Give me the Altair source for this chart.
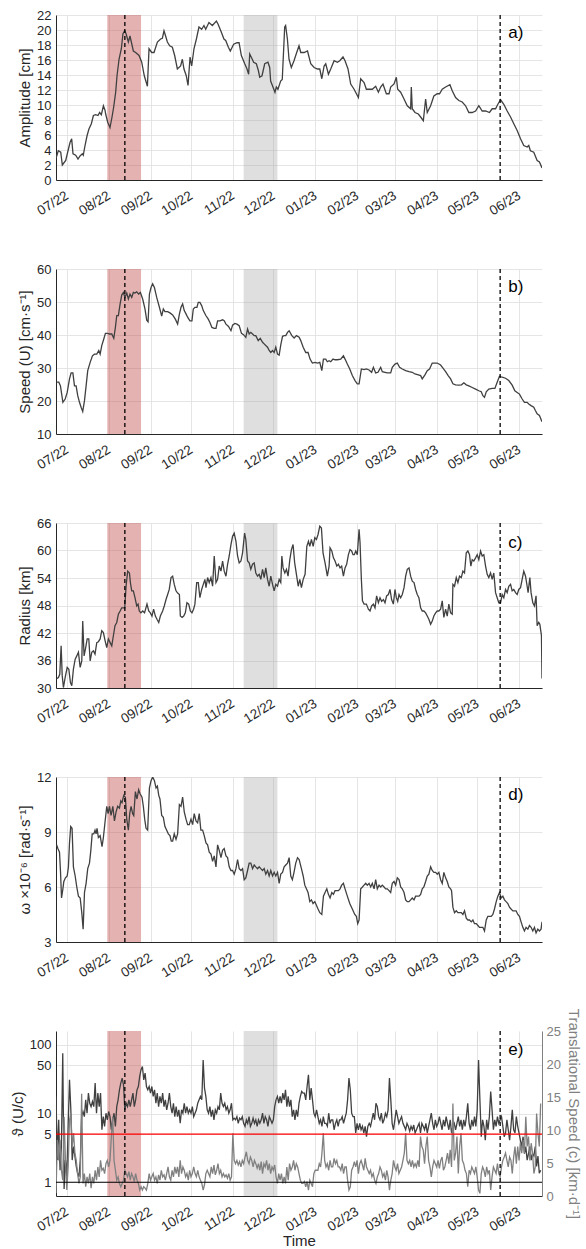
import altair as alt
import pandas as pd

# ---------------------------------------------------------------------------
# Time frame of the record (days are counted from BASE_DAY)
# ---------------------------------------------------------------------------
BASE_DAY = pd.Timestamp("2022-06-23")
X_START = (2022, 6, 23)
X_END = (2023, 6, 18)
MONTH_TICKS = [(2022, m, 1) for m in range(7, 13)] + [(2023, m, 1) for m in range(1, 7)]

# Highlighted periods and events
RED_PERIOD = ("2022-07-31", "2022-08-25")
GRAY_PERIOD = ("2022-11-09", "2022-12-04")
EVENT_DATES = ["2022-08-13", "2023-05-18"]
LETTER_DATE = "2023-05-24"

# ---------------------------------------------------------------------------
# Series: (day since BASE_DAY, value)
# ---------------------------------------------------------------------------
AMPLITUDE = [
    (0, 2.9), (1.7, 3.9), (3.5, 3.7), (4.7, 2.0), (7.2, 2.6), (8.9, 3.9), (10.4, 5.0), (11.6, 5.5),
    (12.6, 3.5), (14.6, 3.3), (16.3, 2.8), (17.8, 3.2), (19.5, 3.5), (20.2, 3.3), (21.5, 4.6),
    (23.0, 5.9), (24.4, 6.8), (26.2, 7.5), (27.7, 8.6), (29.4, 8.7), (31.1, 8.6), (32.3, 9.0),
    (33.6, 8.7), (35.1, 9.9), (36.3, 9.3), (36.8, 8.8), (38.3, 7.7), (40.0, 7.0), (41.5, 8.4),
    (42.7, 9.7), (44.2, 11.7), (45.2, 13.9), (46.7, 16.1), (48.4, 17.5), (49.6, 19.5), (50.9, 19.9),
    (51.9, 19.5), (53.6, 18.4), (54.8, 19.2), (55.8, 18.4), (57.3, 17.2), (59.0, 17.0), (61.5, 16.6),
    (63.5, 15.7), (65.4, 13.9), (67.7, 12.5), (68.9, 17.5), (70.9, 17.0), (72.6, 17.0), (75.1, 18.4),
    (77.5, 18.8), (78.8, 18.9), (80.0, 19.9), (81.2, 19.2), (82.5, 18.4), (84.2, 17.9), (86.2, 17.7),
    (87.9, 16.6), (89.9, 14.8), (92.3, 15.2), (93.6, 16.1), (94.8, 14.8), (96.5, 13.9), (97.8, 12.6),
    (99.3, 16.4), (100.5, 15.2), (102.2, 17.5), (104.0, 18.8), (105.9, 20.4), (107.9, 20.1),
    (109.6, 20.6), (110.9, 20.1), (113.3, 21.0), (115.8, 20.6), (118.8, 21.2), (120.0, 20.8),
    (122.5, 19.7), (124.4, 18.8), (125.7, 18.6), (127.7, 17.7), (129.1, 17.2), (131.6, 18.1),
    (134.1, 18.3), (135.6, 18.3), (137.3, 16.6), (139.8, 15.5), (141.5, 14.8), (142.7, 14.1),
    (143.5, 16.8), (145.4, 16.1), (146.4, 15.7), (148.4, 15.5), (149.9, 14.6), (150.9, 13.7),
    (152.6, 13.9), (154.6, 15.5), (157.0, 15.7), (158.3, 15.0), (159.0, 13.2), (160.7, 12.4),
    (162.2, 11.7), (163.2, 12.4), (164.4, 12.1), (166.4, 13.2), (167.6, 13.4), (169.4, 20.4),
    (170.1, 20.6), (171.4, 18.8), (172.6, 16.1), (174.3, 15.0), (176.3, 15.9), (178.3, 17.0),
    (180.0, 17.9), (181.3, 17.0), (183.8, 17.0), (186.3, 17.2), (188.7, 15.5), (191.2, 15.0),
    (193.7, 14.8), (195.4, 14.8), (196.9, 13.5), (198.6, 15.2), (199.8, 15.5), (201.8, 14.1),
    (203.5, 14.8), (206.0, 15.9), (208.4, 15.7), (210.2, 15.9), (212.6, 16.4), (214.1, 15.9),
    (216.3, 14.8), (218.3, 12.8), (220.8, 12.1), (224.0, 11.0), (225.7, 13.5), (228.2, 13.0),
    (229.9, 12.1), (231.9, 12.1), (234.3, 12.1), (236.8, 12.5), (238.8, 11.7), (240.5, 12.4),
    (242.2, 12.8), (244.7, 11.5), (246.7, 11.5), (247.9, 12.4), (250.4, 12.8), (252.1, 13.7),
    (253.1, 12.1), (255.3, 11.7), (257.8, 10.8), (260.2, 9.9), (262.7, 9.5), (263.2, 12.4),
    (263.9, 9.5), (265.9, 9.0), (268.4, 8.8), (270.1, 8.4), (272.1, 7.9), (273.8, 10.8), (275.0, 9.0),
    (277.5, 9.9), (279.9, 11.2), (282.4, 11.5), (284.1, 11.5), (286.1, 12.1), (288.6, 12.4),
    (291.8, 12.7), (293.5, 11.9), (296.0, 11.0), (298.4, 10.6), (300.9, 10.4), (303.4, 9.9),
    (305.8, 9.0), (308.3, 9.0), (310.8, 9.2), (313.2, 9.9), (315.7, 9.2), (318.2, 9.2), (321.1, 9.0),
    (323.1, 9.5), (325.6, 9.5), (327.3, 10.1), (329.3, 10.7), (331.7, 10.1), (334.2, 9.2),
    (336.7, 8.4), (339.1, 7.5), (341.6, 6.6), (344.1, 5.5), (346.5, 4.6), (349.0, 4.4), (350.2, 4.6),
    (351.4, 3.9), (353.9, 3.7), (356.4, 2.6), (358.1, 2.4), (360.0, 1.6),
]

SPEED = [
    (0.4, 25.7), (2.1, 25.7), (3.3, 24.6), (5.1, 19.6), (6.8, 20.6), (8.3, 22.6), (10.0, 26.7),
    (11.2, 28.5), (12.5, 28.5), (13.7, 24.6), (14.9, 24.6), (16.1, 21.6), (17.4, 19.6), (18.6, 18.1),
    (19.8, 16.8), (21.1, 20.1), (22.3, 24.6), (23.5, 29.2), (25.3, 31.7), (27.0, 33.7), (28.5, 34.2),
    (30.2, 34.2), (31.7, 35.3), (32.7, 34.2), (33.9, 36.8), (35.4, 38.8), (36.6, 40.5), (38.3, 40.5),
    (39.6, 40.3), (41.3, 40.3), (42.8, 39.0), (44.0, 42.3), (45.0, 45.9), (46.2, 45.9), (47.5, 49.4),
    (48.7, 52.1), (49.9, 52.9), (51.1, 51.4), (52.4, 52.7), (53.6, 50.9), (54.8, 52.4), (56.1, 51.4),
    (57.3, 52.9), (58.5, 52.7), (59.8, 53.1), (61.2, 52.4), (62.5, 52.9), (64.2, 50.9), (65.9, 47.9),
    (67.2, 44.5), (68.2, 44.0), (69.2, 52.4), (70.4, 54.4), (71.6, 55.5), (72.9, 54.4), (74.6, 51.4),
    (76.6, 48.4), (78.3, 45.7), (79.5, 47.9), (80.7, 47.1), (82.7, 47.1), (84.4, 46.7), (86.4, 46.1),
    (88.4, 44.8), (90.1, 43.3), (91.4, 46.3), (92.6, 48.4), (93.8, 49.4), (95.0, 47.4), (96.3, 46.4),
    (97.5, 45.4), (99.2, 44.3), (100.7, 44.3), (101.7, 47.9), (102.9, 48.4), (104.4, 48.4),
    (105.4, 49.9), (106.6, 49.9), (107.9, 48.9), (109.1, 47.4), (111.0, 45.9), (112.8, 44.8),
    (114.0, 43.8), (115.5, 42.3), (117.2, 42.0), (118.5, 42.0), (119.7, 44.3), (121.4, 44.3),
    (123.4, 44.6), (124.6, 44.3), (125.9, 43.3), (127.8, 42.6), (129.6, 41.3), (130.8, 43.0),
    (132.5, 43.5), (134.0, 43.3), (135.7, 42.8), (137.4, 40.5), (138.9, 40.1), (140.6, 39.3),
    (141.9, 41.8), (143.1, 40.3), (144.3, 40.8), (145.6, 40.3), (146.8, 39.8), (148.0, 39.8),
    (149.8, 38.3), (151.3, 39.0), (153.0, 37.8), (154.2, 37.3), (155.4, 36.8), (156.7, 36.3),
    (157.9, 35.3), (159.1, 34.7), (160.4, 35.3), (161.6, 34.7), (162.8, 36.3), (164.1, 34.2),
    (165.3, 33.9), (166.5, 37.0), (167.8, 39.6), (169.0, 39.8), (170.2, 39.8), (171.5, 40.8),
    (172.7, 41.3), (174.7, 39.8), (176.4, 39.1), (178.1, 39.8), (180.1, 39.3), (181.3, 38.3),
    (183.1, 36.3), (185.0, 34.7), (186.7, 34.7), (188.2, 32.7), (189.9, 31.5), (191.9, 31.7),
    (193.7, 31.5), (195.4, 31.7), (196.9, 29.2), (198.1, 32.7), (199.8, 32.7), (201.0, 31.9),
    (202.3, 32.2), (203.5, 31.9), (205.2, 32.7), (206.7, 32.5), (208.4, 32.5), (210.9, 32.7),
    (212.9, 33.7), (214.1, 32.7), (215.8, 31.2), (217.6, 29.7), (219.5, 27.7), (221.5, 26.2),
    (223.2, 25.2), (224.5, 25.2), (226.2, 29.7), (228.2, 29.5), (229.9, 29.7), (231.9, 29.4),
    (233.8, 28.7), (235.1, 30.2), (236.8, 28.5), (238.5, 28.7), (240.5, 30.2), (241.7, 28.9),
    (243.7, 28.7), (245.4, 28.5), (247.9, 28.5), (249.1, 30.2), (251.1, 31.2), (252.8, 31.5),
    (254.5, 30.2), (256.5, 29.7), (259.0, 29.2), (261.5, 28.9), (263.9, 28.7), (265.9, 28.2),
    (268.4, 27.9), (270.1, 27.7), (271.3, 26.7), (273.3, 27.9), (275.0, 29.2), (276.7, 29.7),
    (278.7, 31.5), (280.7, 31.5), (282.4, 31.5), (284.9, 30.9), (286.8, 29.9), (288.6, 28.9),
    (290.5, 27.7), (292.3, 26.7), (294.0, 25.2), (296.0, 24.9), (298.4, 24.8), (300.4, 24.9),
    (302.1, 25.5), (303.9, 24.9), (305.8, 24.6), (308.3, 24.1), (310.8, 23.6), (313.2, 23.1),
    (315.0, 22.8), (316.2, 21.6), (317.4, 21.1), (318.7, 22.8), (320.6, 23.6), (323.1, 23.8),
    (325.1, 23.8), (326.8, 25.7), (328.5, 27.5), (330.5, 27.2), (333.0, 26.9), (335.4, 26.2),
    (337.9, 24.8), (339.9, 23.1), (341.6, 22.6), (343.3, 22.1), (345.3, 20.6), (347.0, 19.6),
    (349.0, 19.6), (350.2, 19.1), (351.9, 18.6), (353.9, 18.1), (355.1, 17.1), (356.4, 16.1),
    (358.1, 15.6), (360.0, 13.7),
]

RADIUS = [
    (0.4, 32.0), (1.8, 32.3), (2.8, 33.0), (3.8, 39.2), (4.6, 32.7), (5.5, 30.1), (6.8, 32.3),
    (8.3, 34.5), (9.5, 34.1), (10.7, 31.2), (11.7, 30.5), (12.9, 34.1), (14.2, 36.3), (15.4, 37.0),
    (16.6, 37.8), (17.9, 34.5), (19.1, 35.9), (19.8, 44.6), (20.8, 37.0), (21.8, 38.5), (23.1, 40.7),
    (24.3, 40.7), (25.3, 35.9), (26.5, 37.8), (27.7, 38.1), (28.9, 37.4), (30.2, 39.9), (31.4, 40.1),
    (32.7, 40.7), (33.9, 42.5), (35.1, 42.1), (36.4, 40.3), (37.6, 38.8), (38.8, 40.7), (40.1, 39.9),
    (41.3, 39.2), (42.5, 41.4), (43.7, 43.6), (45.0, 44.3), (46.2, 46.1), (47.5, 46.8), (48.7, 47.5),
    (49.9, 47.5), (50.9, 47.5), (51.9, 52.2), (53.1, 55.5), (54.4, 55.1), (55.1, 53.0), (56.1, 51.2),
    (57.3, 51.2), (58.5, 49.7), (59.8, 47.9), (60.8, 48.3), (61.7, 46.8), (62.9, 46.4), (64.2, 46.8),
    (65.6, 46.4), (67.4, 48.3), (68.7, 46.8), (69.9, 46.4), (71.1, 45.7), (72.3, 47.2), (73.6, 45.7),
    (74.8, 45.0), (76.1, 44.3), (77.3, 45.7), (79.0, 46.8), (80.2, 47.9), (81.5, 49.3), (82.7, 50.4),
    (83.9, 51.5), (85.2, 54.1), (86.4, 54.4), (87.6, 52.6), (88.9, 51.2), (90.1, 50.7), (91.4, 50.4),
    (92.1, 45.7), (93.4, 45.4), (94.6, 45.7), (95.8, 46.4), (97.0, 48.6), (98.3, 48.3), (99.5, 46.8),
    (100.7, 46.4), (101.9, 47.2), (102.9, 48.3), (104.2, 53.0), (105.4, 53.0), (106.6, 49.7),
    (107.9, 51.5), (109.1, 52.6), (110.3, 53.7), (111.1, 51.9), (112.3, 54.1), (113.5, 53.0),
    (114.8, 54.1), (116.0, 52.2), (117.2, 58.8), (118.5, 53.0), (119.7, 53.7), (120.9, 56.6),
    (122.2, 55.5), (123.4, 57.7), (124.6, 55.5), (125.9, 54.4), (127.1, 57.0), (128.3, 58.8),
    (129.6, 61.3), (130.8, 63.1), (132.0, 63.8), (133.3, 62.0), (134.5, 58.8), (135.7, 57.3),
    (137.0, 57.7), (138.2, 59.5), (139.7, 63.8), (140.6, 62.4), (141.9, 57.7), (143.1, 57.3),
    (144.3, 55.9), (145.6, 57.0), (146.8, 57.3), (148.0, 55.1), (149.3, 54.4), (150.5, 54.8),
    (151.7, 53.7), (153.0, 55.9), (154.2, 54.1), (155.4, 56.2), (156.7, 53.7), (157.9, 52.2),
    (159.1, 54.4), (160.4, 52.6), (161.6, 51.2), (162.8, 52.6), (164.1, 52.2), (165.3, 53.7),
    (166.5, 53.0), (167.3, 58.8), (168.2, 56.2), (169.5, 55.1), (170.7, 55.9), (171.9, 54.4),
    (173.2, 58.0), (174.4, 60.2), (175.6, 61.3), (176.8, 57.3), (178.3, 54.4), (179.4, 52.2),
    (180.6, 53.7), (181.8, 51.9), (183.1, 53.7), (184.5, 54.8), (185.8, 60.9), (187.0, 62.0),
    (188.0, 60.9), (189.2, 62.4), (190.5, 60.9), (191.7, 62.8), (192.9, 62.4), (194.1, 63.5),
    (195.4, 65.3), (196.6, 64.9), (197.8, 59.5), (199.3, 57.3), (201.0, 54.4), (202.3, 56.6),
    (203.0, 60.6), (204.3, 59.9), (205.5, 58.4), (206.7, 57.7), (208.0, 56.6), (209.2, 57.0),
    (210.4, 56.2), (211.6, 56.6), (212.9, 54.4), (214.1, 56.2), (215.3, 57.0), (216.6, 59.1),
    (217.8, 60.2), (219.0, 59.9), (220.0, 59.1), (221.0, 59.1), (222.0, 59.9), (223.2, 59.1),
    (224.5, 64.6), (225.2, 61.8), (226.2, 53.7), (227.0, 49.0), (228.2, 48.3), (229.9, 48.3),
    (231.4, 47.2), (232.6, 46.8), (233.8, 47.9), (235.1, 48.3), (236.3, 47.5), (237.5, 50.1),
    (238.8, 48.6), (240.0, 49.7), (241.2, 48.9), (242.5, 49.3), (243.7, 48.6), (244.9, 50.1),
    (246.2, 50.4), (247.4, 51.5), (248.6, 49.3), (249.9, 48.3), (251.1, 51.5), (252.1, 49.7),
    (253.1, 48.9), (254.1, 50.4), (255.3, 49.7), (256.5, 50.4), (257.8, 51.9), (259.0, 54.4),
    (260.2, 55.9), (261.5, 56.2), (262.7, 54.4), (263.9, 53.3), (265.2, 53.0), (266.4, 51.5),
    (267.6, 50.4), (268.8, 49.7), (270.1, 47.5), (271.3, 46.8), (272.5, 46.8), (273.8, 46.4),
    (275.0, 45.7), (276.2, 45.0), (277.5, 43.9), (278.7, 44.6), (279.9, 45.7), (281.2, 46.4),
    (282.4, 46.8), (283.6, 46.8), (284.9, 47.2), (286.1, 49.0), (287.3, 45.4), (288.6, 47.2),
    (289.8, 45.7), (291.0, 48.3), (292.3, 46.4), (293.5, 46.1), (294.0, 52.6), (295.2, 52.2),
    (296.5, 54.1), (297.7, 53.0), (298.9, 54.4), (300.2, 54.1), (301.4, 55.5), (302.6, 55.1),
    (303.9, 59.5), (305.1, 59.9), (306.3, 59.1), (307.3, 56.6), (308.3, 58.0), (309.5, 57.7),
    (310.8, 58.4), (312.0, 59.1), (313.2, 58.0), (314.5, 59.9), (315.7, 58.8), (316.9, 59.1),
    (318.2, 56.6), (319.4, 54.8), (320.6, 54.1), (321.9, 55.1), (323.1, 53.7), (324.3, 55.1),
    (325.6, 50.8), (326.8, 49.7), (328.0, 48.6), (329.3, 48.6), (330.5, 50.4), (331.7, 49.7),
    (333.0, 51.5), (334.2, 50.8), (335.4, 52.2), (336.7, 52.6), (337.9, 51.2), (339.1, 51.5),
    (340.4, 50.8), (341.6, 50.4), (342.8, 51.5), (344.1, 51.9), (345.3, 53.7), (346.5, 55.5),
    (347.8, 54.4), (349.0, 52.2), (349.7, 50.8), (351.0, 54.1), (351.9, 50.8), (353.2, 48.6),
    (354.4, 47.9), (355.6, 50.1), (356.4, 43.6), (357.6, 44.3), (358.4, 43.9), (359.6, 41.4),
    (360.0, 32.1),
]

ROTATION = [
    (0.4, 8.3), (1.4, 8.1), (2.6, 7.9), (3.3, 6.9), (4.1, 5.4), (5.1, 5.9), (5.8, 6.3), (7.0, 6.5),
    (8.3, 6.6), (9.2, 7.1), (10.0, 8.4), (10.9, 9.3), (11.9, 9.2), (12.9, 7.1), (14.2, 6.6),
    (15.4, 6.0), (16.6, 5.5), (17.9, 5.4), (19.1, 4.6), (20.1, 3.7), (21.1, 5.7), (22.3, 6.2),
    (23.5, 7.0), (24.8, 7.3), (25.8, 8.0), (26.8, 8.9), (28.0, 8.9), (28.9, 9.1), (29.7, 8.9),
    (30.4, 9.2), (31.4, 8.7), (32.7, 8.8), (34.1, 8.2), (35.1, 8.7), (36.4, 9.6), (37.6, 10.4),
    (38.6, 10.0), (39.6, 10.4), (40.8, 9.9), (42.1, 10.4), (43.3, 9.6), (44.5, 10.1), (45.7, 10.4),
    (47.0, 10.3), (48.0, 10.7), (48.9, 10.6), (50.2, 11.0), (51.4, 10.9), (52.4, 9.7), (53.6, 9.1),
    (54.6, 10.0), (55.6, 10.4), (56.8, 10.0), (57.6, 9.9), (58.8, 11.2), (60.0, 10.8), (61.2, 11.3),
    (62.2, 11.1), (63.7, 10.9), (64.7, 10.4), (65.7, 9.7), (66.7, 9.2), (67.9, 9.1), (69.2, 11.4),
    (70.4, 11.8), (71.6, 12.0), (72.9, 11.8), (74.1, 11.4), (75.1, 11.5), (76.1, 11.0), (77.0, 10.8),
    (78.3, 9.9), (79.5, 9.8), (80.7, 9.3), (82.0, 9.1), (83.2, 8.9), (84.4, 8.8), (85.4, 8.5),
    (86.4, 8.5), (87.6, 8.9), (88.9, 8.6), (90.1, 8.9), (91.4, 10.5), (92.6, 10.4), (93.8, 10.9),
    (95.0, 10.1), (96.3, 9.7), (97.5, 9.4), (98.7, 9.4), (100.0, 9.7), (101.2, 9.4), (102.4, 10.0),
    (103.7, 9.6), (104.9, 9.5), (106.1, 10.0), (107.3, 9.1), (108.6, 9.1), (109.8, 8.8), (111.1, 8.4),
    (112.3, 8.3), (113.5, 7.9), (114.8, 7.8), (116.0, 7.4), (117.2, 7.7), (118.5, 7.1), (119.7, 8.3),
    (120.9, 8.0), (122.2, 7.6), (123.4, 8.0), (124.6, 8.1), (125.9, 7.7), (127.1, 7.6), (128.3, 7.1),
    (129.6, 6.9), (130.8, 6.9), (132.0, 6.7), (133.3, 7.0), (134.5, 7.5), (135.7, 7.0), (137.0, 6.9),
    (138.2, 7.0), (139.4, 6.4), (140.6, 6.5), (141.9, 6.9), (143.1, 7.3), (144.3, 7.3), (145.6, 7.0),
    (146.8, 7.2), (148.0, 7.1), (149.3, 7.0), (150.5, 7.1), (151.7, 7.0), (153.0, 6.9), (154.2, 7.0),
    (155.4, 6.7), (156.7, 6.9), (157.9, 6.6), (159.1, 6.9), (160.4, 6.6), (161.6, 6.8), (162.8, 6.6),
    (164.1, 6.8), (165.3, 6.2), (166.5, 6.7), (167.8, 6.8), (169.0, 7.1), (170.2, 7.2), (171.5, 7.3),
    (172.7, 7.6), (173.9, 6.6), (175.1, 6.4), (176.3, 6.8), (177.6, 7.3), (178.9, 7.6), (180.1, 7.5),
    (181.8, 7.0), (183.1, 6.6), (184.3, 6.1), (185.5, 5.9), (186.7, 5.7), (188.0, 5.2), (189.2, 5.3),
    (190.4, 5.1), (191.7, 5.2), (192.9, 5.0), (194.1, 4.8), (195.4, 4.6), (196.9, 4.5), (198.1, 5.5),
    (199.3, 5.7), (200.6, 5.9), (201.8, 5.6), (203.0, 5.4), (204.3, 5.7), (205.5, 5.6), (206.7, 5.8),
    (207.9, 5.8), (209.2, 5.8), (210.4, 5.9), (211.6, 6.1), (212.9, 6.2), (214.1, 5.9), (215.8, 5.5),
    (217.6, 5.1), (219.5, 4.8), (221.3, 4.5), (222.5, 4.4), (223.5, 4.0), (224.5, 4.2), (225.7, 5.9),
    (227.0, 6.0), (228.2, 6.1), (229.4, 6.2), (230.6, 6.1), (231.9, 6.2), (233.1, 6.0), (234.3, 6.2),
    (235.6, 5.9), (236.8, 6.4), (238.0, 5.9), (239.3, 6.1), (240.5, 6.0), (241.7, 6.1), (243.0, 6.0),
    (244.2, 5.9), (245.4, 5.9), (246.7, 5.8), (247.9, 5.7), (249.1, 6.2), (250.4, 6.3), (251.6, 6.1),
    (252.8, 6.5), (254.1, 6.4), (255.3, 6.0), (256.5, 5.9), (257.8, 5.7), (259.0, 5.3), (260.2, 5.2),
    (261.5, 5.2), (262.7, 5.3), (263.9, 5.4), (265.2, 5.3), (266.4, 5.5), (267.6, 5.5), (268.9, 5.5),
    (270.1, 5.6), (271.3, 5.9), (272.5, 6.0), (273.8, 6.3), (275.0, 6.6), (276.2, 6.7), (277.5, 7.1),
    (278.7, 6.9), (279.9, 6.8), (281.2, 6.8), (282.4, 6.7), (283.6, 6.8), (284.9, 6.4), (286.1, 6.2),
    (287.3, 6.8), (288.6, 6.5), (289.8, 6.3), (291.0, 6.0), (292.3, 5.9), (293.0, 5.8), (294.0, 4.9),
    (295.2, 4.6), (296.5, 4.7), (297.7, 4.6), (298.9, 4.6), (300.2, 4.6), (301.4, 4.5), (302.6, 4.7),
    (303.9, 4.3), (305.1, 4.2), (306.3, 4.2), (307.6, 4.1), (308.8, 4.2), (310.0, 4.0), (311.3, 4.0),
    (312.5, 3.9), (313.7, 3.8), (315.0, 3.8), (316.2, 3.8), (317.4, 3.6), (318.7, 4.2), (319.9, 4.4),
    (321.1, 4.4), (322.4, 4.4), (323.6, 4.5), (324.8, 4.8), (326.1, 5.2), (327.3, 5.5), (328.5, 5.7),
    (329.8, 5.4), (331.0, 5.5), (332.2, 5.3), (333.4, 5.2), (334.7, 5.1), (335.9, 4.9), (337.1, 4.8),
    (338.4, 4.7), (339.6, 4.7), (340.8, 4.7), (342.1, 4.5), (343.3, 4.4), (344.5, 4.1), (345.8, 3.8),
    (347.0, 3.6), (348.2, 3.8), (349.5, 3.7), (350.7, 3.9), (351.9, 3.8), (353.2, 3.6), (354.4, 3.8),
    (355.6, 3.5), (356.9, 3.7), (358.1, 3.6), (359.3, 3.7), (360.0, 4.1),
]

# Daily series from BASE_DAY: nonlinearity parameter U/c and translational speed c [km/d]
THETA = [
    17.7, 2.1, 8.1, 1.5, 3.3, 75.0, 0.8, 2.1, 1.2, 6.5,
    31.0, 11.3, 2.1, 3.3, 2.4, 1.7, 1.35, 1.2, 2.1, 9.0,
    10.7, 9.0, 15.8, 10.1, 19.8, 14.1, 12.6, 14.9, 12.6, 27.7,
    10.1, 19.8, 12.6, 19.8, 5.8, 9.0, 6.5, 10.1, 8.1, 10.7,
    9.0, 5.8, 8.1, 10.1, 6.5, 12.6, 15.8, 22.1, 27.7, 32.7,
    26.1, 11.3, 14.1, 12.6, 15.8, 12.6, 15.8, 19.8, 12.6, 15.8,
    22.1, 24.7, 34.6, 43.3, 48.3, 30.9, 38.6, 24.7, 22.1, 24.7,
    19.8, 24.7, 17.7, 22.1, 14.1, 19.8, 12.6, 17.7, 14.1, 19.8,
    12.6, 15.8, 11.3, 14.1, 19.8, 12.6, 10.1, 14.1, 9.0, 12.6,
    9.0, 11.3, 7.2, 11.3, 10.1, 14.1, 10.1, 12.6, 10.1, 11.3,
    10.1, 12.6, 9.0, 10.1, 11.3, 14.1, 15.8, 17.7, 15.8, 60.0,
    23.4, 17.7, 11.3, 10.1, 12.6, 9.0, 11.3, 8.1, 11.3, 10.1,
    12.6, 11.3, 19.8, 14.1, 12.6, 14.1, 11.3, 12.6, 10.1, 11.3,
    14.1, 8.1, 8.55, 8.1, 9.0, 7.2, 8.55, 8.1, 9.0, 7.2,
    6.5, 8.1, 7.2, 9.0, 6.5, 7.2, 8.55, 7.2, 8.1, 6.5,
    8.1, 7.2, 8.1, 10.1, 7.2, 9.0, 8.1, 6.5, 9.0, 8.1,
    7.2, 8.1, 12.6, 15.8, 17.7, 14.1, 17.7, 14.1, 19.8, 15.8,
    22.1, 12.6, 17.7, 12.6, 15.8, 9.0, 11.3, 8.1, 11.3, 9.0,
    14.1, 17.7, 20.9, 19.8, 19.8, 15.8, 24.7, 36.6, 15.8, 23.4,
    15.8, 10.1, 9.0, 11.3, 9.0, 7.2, 8.1, 6.5, 9.0, 7.2,
    7.2, 6.5, 10.1, 7.2, 8.1, 8.1, 5.8, 7.2, 8.1, 6.5,
    8.1, 8.1, 9.0, 7.2, 8.55, 10.1, 15.8, 32.7, 22.1, 10.1,
    9.0, 9.0, 5.2, 7.2, 5.8, 7.2, 5.8, 6.5, 5.2, 6.5,
    4.6, 6.5, 7.2, 6.5, 8.1, 10.1, 8.1, 14.1, 12.6, 9.0,
    8.1, 10.1, 7.2, 8.1, 10.1, 9.0, 11.3, 32.7, 15.8, 7.2,
    5.8, 8.1, 11.3, 9.0, 7.2, 8.1, 9.0, 7.2, 6.5, 5.8,
    7.2, 6.5, 5.5, 6.5, 5.8, 6.8, 5.2, 5.8, 6.5, 7.2,
    5.2, 7.2, 6.5, 5.8, 7.2, 5.2, 6.5, 8.1, 10.1, 7.2,
    5.8, 8.1, 6.5, 7.2, 9.0, 7.2, 5.8, 8.1, 6.5, 9.0,
    7.2, 5.8, 8.1, 5.2, 6.5, 7.2, 5.8, 7.2, 9.0, 6.5,
    8.1, 5.8, 8.1, 6.5, 9.0, 14.1, 7.2, 5.8, 8.1, 6.5,
    9.0, 6.5, 11.3, 60.0, 15.8, 4.6, 8.1, 6.5, 4.1, 8.1,
    5.8, 9.0, 20.9, 11.3, 5.8, 8.1, 6.5, 9.0, 7.2, 8.1,
    9.0, 6.5, 4.6, 5.2, 8.1, 5.8, 4.1, 6.5, 11.3, 5.8,
    5.2, 9.0, 6.5, 5.2, 4.1, 3.3, 4.6, 2.6, 3.3, 2.1,
    2.6, 3.3, 2.1, 2.6, 2.4, 3.3, 1.7, 2.4, 1.35, 1.5,
]

TRANSLATION = [
    0.4, 8.5, 5.4, 8.5, 3.9, 2.4, 12.0, 5.4, 0.9, 4.4,
    11.5, 12.5, 7.5, 9.5, 6.5, 5.4, 3.4, 1.9, 2.9, 15.5,
    1.9, 3.4, 1.4, 2.9, 1.9, 3.4, 1.2, 2.9, 1.9, 3.9,
    2.4, 4.4, 2.9, 5.4, 3.9, 4.2, 3.4, 4.9, 5.4, 4.4,
    5.4, 9.0, 12.0, 5.4, 3.9, 2.4, 2.9, 1.9, 1.4, 1.9,
    2.4, 3.9, 3.4, 2.9, 3.7, 2.4, 3.4, 2.9, 2.2, 3.4,
    2.4, 1.9, 0.9, 1.4, 0.9, 1.4, 1.2, 0.9, 1.9, 3.4,
    2.4, 2.9, 3.4, 2.4, 2.9, 1.9, 3.2, 2.4, 3.9, 2.9,
    3.2, 2.4, 3.4, 4.4, 2.9, 2.4, 3.9, 2.9, 4.4, 3.4,
    4.4, 2.9, 5.4, 3.4, 4.4, 3.9, 2.9, 3.4, 2.4, 3.9,
    2.9, 3.4, 4.4, 3.4, 2.9, 3.9, 2.9, 2.4, 1.9, 0.9,
    1.7, 3.4, 3.9, 3.4, 2.9, 4.4, 3.4, 4.7, 3.2, 3.9,
    4.9, 3.4, 3.9, 2.9, 3.4, 2.9, 3.2, 2.7, 3.4, 2.4,
    2.9, 9.5, 5.4, 4.9, 5.4, 4.7, 5.2, 4.4, 5.4, 4.9,
    5.9, 6.7, 5.4, 4.9, 5.9, 5.4, 4.4, 5.4, 4.9, 4.2,
    4.9, 3.9, 5.2, 3.4, 4.9, 4.4, 5.4, 3.9, 4.9, 3.4,
    4.4, 3.9, 4.7, 2.9, 1.9, 3.4, 2.4, 3.4, 1.9, 2.9,
    1.9, 4.4, 2.4, 4.9, 3.9, 4.4, 5.4, 3.9, 4.9, 4.4,
    3.4, 2.4, 1.9, 1.9, 2.2, 1.4, 2.2, 0.9, 2.4, 1.9,
    1.4, 3.4, 3.9, 3.9, 3.9, 4.9, 4.4, 6.5, 9.5, 5.4,
    4.4, 4.9, 3.9, 5.4, 4.4, 4.4, 5.7, 4.9, 5.4, 4.4,
    4.4, 3.9, 4.9, 3.4, 4.4, 4.4, 2.4, 0.9, 1.4, 3.9,
    4.4, 5.2, 4.4, 5.4, 3.4, 4.9, 5.4, 4.7, 3.9, 5.7,
    4.4, 3.9, 3.4, 3.9, 2.9, 3.4, 2.4, 1.9, 2.9, 3.4,
    4.4, 3.9, 2.9, 3.4, 2.4, 3.9, 2.9, 0.9, 2.4, 3.4,
    5.4, 4.4, 3.9, 4.9, 3.4, 3.9, 4.4, 5.4, 6.5, 9.5,
    5.4, 4.9, 5.4, 4.4, 5.4, 4.4, 4.9, 4.4, 5.4, 4.4,
    9.0, 7.5, 7.0, 4.9, 7.5, 9.0, 5.4, 4.4, 2.9, 4.4,
    5.4, 4.9, 4.4, 5.4, 4.2, 5.4, 5.9, 3.9, 4.4, 5.4,
    6.5, 4.9, 7.0, 4.4, 14.0, 5.4, 6.5, 9.0, 3.4, 7.5,
    9.5, 5.4, 4.9, 3.9, 3.4, 1.4, 3.9, 3.4, 4.4, 3.9,
    3.4, 4.4, 2.9, 0.9, 0.4, 3.4, 4.4, 3.9, 2.9, 4.4,
    3.4, 3.9, 0.9, 2.9, 4.4, 3.9, 3.4, 4.9, 3.4, 2.9,
    4.4, 5.4, 5.9, 6.5, 5.4, 4.4, 5.9, 5.4, 3.4, 5.9,
    7.5, 4.9, 7.5, 5.4, 8.0, 6.5, 8.5, 6.5, 12.0, 7.5,
    9.0, 5.4, 8.0, 6.5, 3.4, 4.4, 12.5, 9.5, 7.5, 14.0,
]

THETA_REFERENCE = [5, 1]          # red (5) and black (1) reference levels

# ---------------------------------------------------------------------------
# Styling
# ---------------------------------------------------------------------------
FONT = "Liberation Sans"
INK = "#262626"
LINE_DARK = "#404040"
LINE_GRAY = "#808080"
PANEL_W, PANEL_H = 486, 165


def dt(ymd):
    y, m, d = ymd
    return alt.DateTime(year=y, month=m, date=d)


X_SCALE = alt.Scale(domain=[dt(X_START), dt(X_END)])


def time_axis(title=None):
    return alt.Axis(
        values=[dt(t) for t in MONTH_TICKS], format="%m/%y", labelAngle=-32,
        labelAlign="right", labelBaseline="middle", labelPadding=14, labelFontSize=13.5,
        labelOverlap=False, labelFlush=False, grid=True, ticks=False,
        title=title, titlePadding=0, titleFontSize=15,
    )


def xenc(field, title=None):
    return alt.X(field, scale=X_SCALE, axis=time_axis(title))


def trace_frame(trace):
    days, vals = zip(*trace)
    dates = [BASE_DAY + pd.to_timedelta(d, unit="D") for d in days]
    return pd.DataFrame({"date": dates, "val": vals})


def daily_frame(vals):
    return pd.DataFrame({"date": pd.date_range(BASE_DAY, periods=len(vals), freq="D"), "val": vals})


periods = pd.DataFrame({
    "date": [RED_PERIOD[0], GRAY_PERIOD[0]],
    "end": [RED_PERIOD[1], GRAY_PERIOD[1]],
    "kind": ["red", "gray"],
})
events = pd.DataFrame({"date": EVENT_DATES})


def shading(xtitle=None):
    return alt.Chart(periods).mark_rect().encode(
        x=xenc("date:T", xtitle),
        x2="end:T",
        fill=alt.Fill("kind:N", scale=alt.Scale(domain=["red", "gray"], range=["#c04848", "#a0a0a0"]), legend=None),
        opacity=alt.Opacity("kind:N", scale=alt.Scale(domain=["red", "gray"], range=[0.42, 0.34]), legend=None),
    )


def event_rules(xtitle=None):
    return alt.Chart(events).mark_rule(color="black", strokeDash=[4, 3], strokeWidth=1.3).encode(
        x=xenc("date:T", xtitle)
    )


def left_axis(title, values):
    return alt.Axis(values=values, title=title, grid=True, ticks=False, labelPadding=5, titlePadding=4)


def letter(text, yval, yscale, yaxis, xtitle=None):
    df = pd.DataFrame({"date": [LETTER_DATE], "val": [yval], "label": [text]})
    return alt.Chart(df).mark_text(align="left", baseline="middle", fontSize=17, font=FONT, color="black").encode(
        x=xenc("date:T", xtitle),
        y=alt.Y("val:Q", scale=yscale, axis=yaxis),
        text="label:N",
    )


def line_panel(df, title, domain, ticks, tag, tag_y):
    yscale = alt.Scale(domain=domain, nice=False, zero=False)
    yaxis = left_axis(title, ticks)
    line = alt.Chart(df).mark_line(color=LINE_DARK, strokeWidth=1.3, clip=True).encode(
        x=xenc("date:T"),
        y=alt.Y("val:Q", scale=yscale, axis=yaxis),
    )
    return alt.layer(shading(), line, event_rules(), letter(tag, tag_y, yscale, yaxis)).properties(
        width=PANEL_W, height=PANEL_H
    )


panel_a = line_panel(trace_frame(AMPLITUDE), "Amplitude [cm]", [0, 22], list(range(0, 23, 2)), "a)", 19.6)
panel_b = line_panel(trace_frame(SPEED), "Speed (U) [cm·s⁻¹]", [10, 60], list(range(10, 61, 10)), "b)", 54.5)
panel_c = line_panel(trace_frame(RADIUS), "Radius [km]", [30, 66], list(range(30, 67, 6)), "c)", 61.6)
panel_d = line_panel(trace_frame(ROTATION), "ω ×10⁻⁶ [rad·s⁻¹]", [3, 12], [3, 6, 9, 12], "d)", 11.0)

# Panel e: U/c on a log axis (left) and translational speed on a linear axis (right)
theta_scale = alt.Scale(type="log", domain=[0.631, 158.5], nice=False)
theta_axis = left_axis("ϑ (U/c)", [1, 5, 10, 50, 100])
theta_line = alt.Chart(daily_frame(THETA)).mark_line(color=LINE_DARK, strokeWidth=1.3, clip=True).encode(
    x=xenc("date:T", "Time"),
    y=alt.Y("val:Q", scale=theta_scale, axis=theta_axis),
)
bottom_e = alt.layer(shading("Time"), theta_line)

trans_line = alt.Chart(daily_frame(TRANSLATION)).mark_line(color=LINE_GRAY, strokeWidth=1.3, clip=True).encode(
    x=xenc("date:T", "Time"),
    y=alt.Y("val:Q", scale=alt.Scale(domain=[0, 25], nice=False),
            axis=alt.Axis(orient="right", values=[0, 5, 10, 15, 20, 25], grid=False, ticks=False,
                          title="Translational Speed (c) [km·d⁻¹]", labelColor=LINE_GRAY,
                          titleColor=LINE_GRAY, domainColor=LINE_GRAY, labelPadding=4, titlePadding=5)),
)

ref_df = pd.DataFrame({"val": THETA_REFERENCE, "kind": ["red", "black"]})
top_axis_off = alt.Axis(orient="left", labels=False, domain=False, grid=False, ticks=False, title=None)
ref_rules = alt.Chart(ref_df).mark_rule(strokeWidth=1.2).encode(
    y=alt.Y("val:Q", scale=theta_scale, axis=top_axis_off),
    color=alt.Color("kind:N", scale=alt.Scale(domain=["red", "black"], range=["#ff0000", "#000000"]), legend=None),
)
top_e = alt.layer(ref_rules, event_rules("Time"), letter("e)", 84, theta_scale, top_axis_off, "Time"))

panel_e = alt.layer(bottom_e, trans_line, top_e).resolve_scale(y="independent").properties(
    width=PANEL_W, height=PANEL_H
)

chart = alt.vconcat(panel_a, panel_b, panel_c, panel_d, panel_e, spacing=89, bounds="flush").properties(
    padding={"left": 10, "top": 9, "right": 2, "bottom": 0}
).configure_view(stroke=None).configure_axis(
    labelFont=FONT, titleFont=FONT, labelFontSize=13, titleFontSize=15, titleFontWeight="normal",
    labelColor=INK, titleColor=INK, domainColor=INK, domainWidth=1, gridColor="#dedede", gridWidth=0.8,
)

chart.save("out.html", embed_options={"renderer": "svg", "actions": False})
